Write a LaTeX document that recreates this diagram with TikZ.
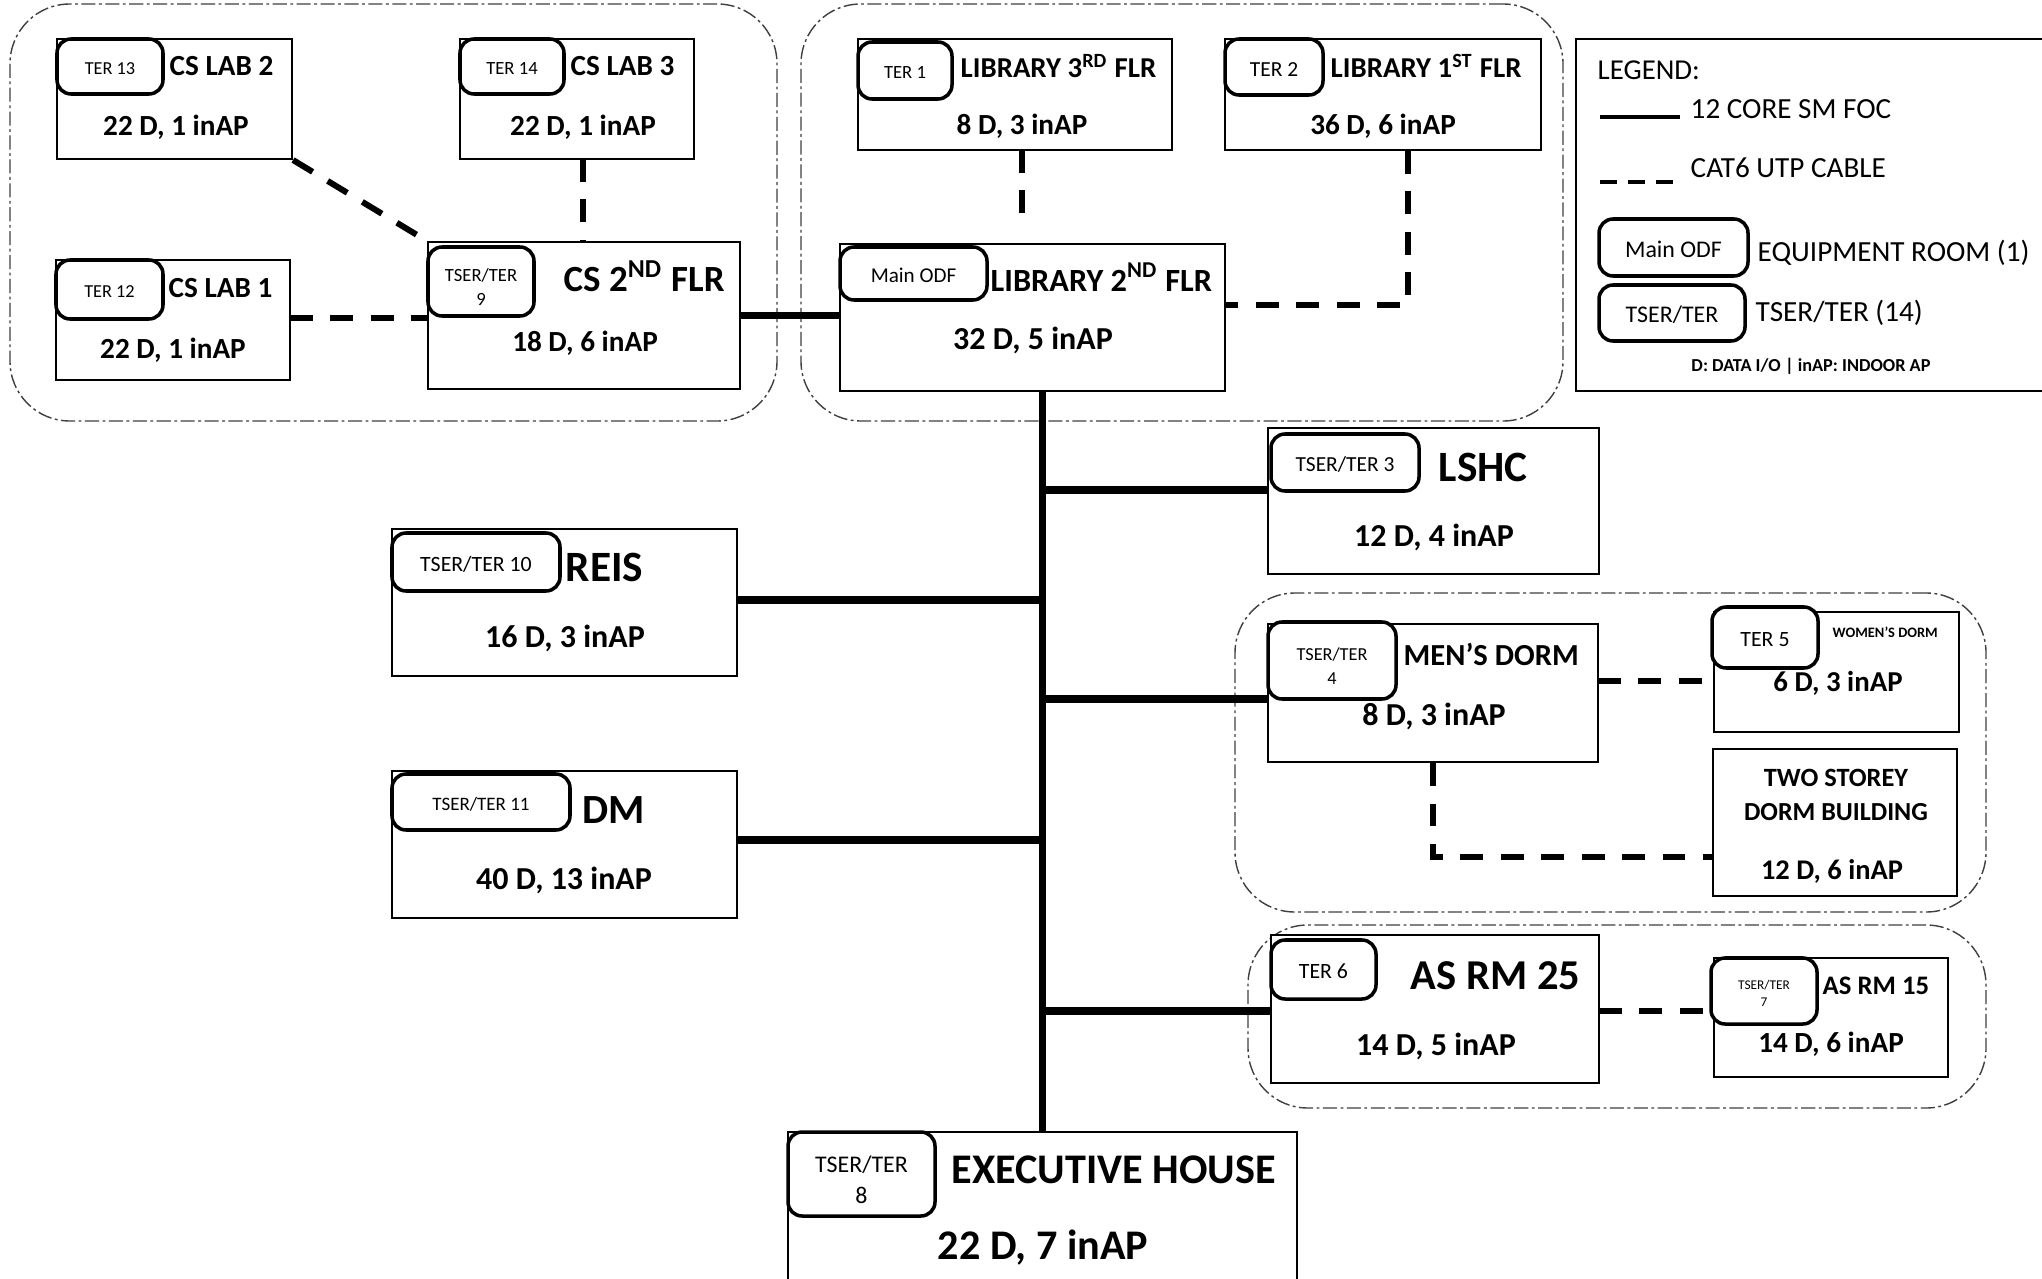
\documentclass[tikz,border=0pt]{standalone}
\usepackage{fontspec}
\setmainfont{Carlito}
\usetikzlibrary{fit}
\begin{document}
\begin{tikzpicture}[x=0.01cm,y=-0.01cm,
  room/.style={draw, line width=0.6pt, inner sep=0pt, fill=white},
  ter/.style={draw, line width=1pt, rounded corners=4pt, inner sep=0pt, fill=white},
  terl/.style={inner sep=0pt, align=center, yshift=-0.6pt, font=\fontsize{#1}{\dimexpr #1pt*13/10\relax}\selectfont},
  bt/.style={inner sep=0pt, font=\fontsize{#1}{#1}\selectfont\bfseries},
  rt/.style={inner sep=0pt, font=\fontsize{#1}{#1}\selectfont},
  foc/.style={line width=2pt},
  utp/.style={line width=1.7pt, dash pattern=on 6.5pt off 5pt},
  grp/.style={draw, line width=0.4pt, black!75, rounded corners=17pt, dash pattern=on 4pt off 1pt on 0.8pt off 1pt, inner sep=0pt}]
\useasboundingbox (0,0) rectangle (2042,1279);
\fill[white] (0,0) rectangle (2042,1279);

% groups
\node[grp, fit={(10,4)(777,421)}] (gcs) {};
\node[grp, fit={(801,4)(1563,421)}] (glib) {};
\node[grp, fit={(1235,593)(1986,912)}] (gdorm) {};
\node[grp, fit={(1248,925)(1986,1108)}] (gas) {};

% rooms
\node[room, fit={(57,39)(292,159)}] (lab2) {};
\node[room, fit={(460,39)(694,159)}] (lab3) {};
\node[room, fit={(56,260)(290,380)}] (lab1) {};
\node[room, fit={(428,242)(740,389)}] (cs2) {};
\node[room, fit={(858,39)(1172,150)}] (lib3) {};
\node[room, fit={(1225,39)(1541,150)}] (lib1) {};
\node[room, fit={(840,244)(1225,391)}] (lib2) {};
\node[room, fit={(1268,428)(1599,574)}] (lshc) {};
\node[room, fit={(392,529)(737,676)}] (reis) {};
\node[room, fit={(392,771)(737,918)}] (dm) {};
\node[room, fit={(1268,624)(1598,762)}] (mens) {};
\node[room, fit={(1714,612)(1959,732)}] (women) {};
\node[room, fit={(1713,749)(1957,896)}] (two) {};
\node[room, fit={(1271,935)(1599,1083)}] (as25) {};
\node[room, fit={(1714,958)(1948,1077)}] (as15) {};
\node[room, fit={(788,1132)(1297,1300)}] (exec) {};

% trunk and fibre links
\draw[foc] (exec.north) -- (exec.north |- lib2.south);
\draw[foc] (cs2.east) -- (cs2.east -| lib2.west);
\coordinate (b1) at (1042,490);
\coordinate (b2) at (1042,600);
\coordinate (b3) at (1042,699);
\coordinate (b4) at (1042,840);
\coordinate (b5) at (1042,1011);
\draw[foc] (b1) -- (b1 -| lshc.west);
\draw[foc] (b2) -- (b2 -| reis.east);
\draw[foc] (b3) -- (b3 -| mens.west);
\draw[foc] (b4) -- (b4 -| dm.east);
\draw[foc] (b5) -- (b5 -| as25.west);

% UTP links
\draw[utp] (lab2.south east) -- (cs2.north west);
\coordinate (u1) at (583,159);
\draw[utp] (u1) -- (u1 |- cs2.north);
\coordinate (u2) at (290,318);
\draw[utp] (u2) -- (u2 -| cs2.west);
\coordinate (u3) at (1022,150);
\draw[utp, shorten >=8pt] (u3) -- (u3 |- lib2.north);
\coordinate (u4) at (1408,305);
\draw[utp] (u4 |- lib1.south) -- (u4) -- (u4 -| lib2.east);
\coordinate (u5) at (1598,681);
\draw[utp] (u5) -- (u5 -| women.west);
\coordinate (u6) at (1433,857);
\draw[utp] (mens.south) -- (u6) -- (u6 -| two.west);
\coordinate (u7) at (1599,1011);
\draw[utp] (u7) -- (u7 -| as15.west);

% terminal rooms
\node[ter, fit={(57,39)(163,94)}] (t13) {};
\node[terl=5.2] (t13l) at (t13) {TER 13};
\node[ter, fit={(460,39)(564,94)}] (t14) {};
\node[terl=5.3] (t14l) at (t14) {TER 14};
\node[ter, fit={(56,260)(163,319)}] (t12) {};
\node[terl=5.2] (t12l) at (t12) {TER 12};
\node[ter, fit={(428,247)(534,316)}] (t9) {};
\node[terl=5.3, yshift=-1pt] (t9l) at (t9) {TSER/TER\\9};
\node[ter, fit={(858,42)(952,99)}] (t1) {};
\node[terl=5.3] (t1l) at (t1) {TER 1};
\node[ter, fit={(1225,39)(1323,95)}] (t2) {};
\node[terl=6.1] (t2l) at (t2) {TER 2};
\node[ter, fit={(840,247)(987,300)}] (modf) {};
\node[terl=6.0] (modfl) at (modf) {Main ODF};
\node[ter, fit={(1271,434)(1419,491)}] (t3) {};
\node[terl=6.1] (t3l) at (t3) {TSER/TER 3};
\node[ter, fit={(392,533)(560,591)}] (t10) {};
\node[terl=6.2] (t10l) at (t10) {TSER/TER 10};
\node[ter, fit={(392,774)(570,830)}] (t11) {};
\node[terl=5.4] (t11l) at (t11) {TSER/TER 11};
\node[ter, fit={(1268,622)(1396,699)}] (t4) {};
\node[terl=5.2, yshift=-1pt] (t4l) at (t4) {TSER/TER\\4};
\node[ter, fit={(1712,607)(1818,668)}] (t5) {};
\node[terl=6.2] (t5l) at (t5) {TER 5};
\node[ter, fit={(1271,940)(1376,999)}] (t6) {};
\node[terl=6.2] (t6l) at (t6) {TER 6};
\node[ter, fit={(1711,958)(1817,1024)}] (t7) {};
\node[terl=3.8] (t7l) at (t7) {TSER/TER\\7};
\node[ter, fit={(788,1132)(935,1216)}] (t8) {};
\node[terl=6.8, yshift=-1pt] (t8l) at (t8) {TSER/TER\\8};

% room titles and counts
\node[bt=8.3, anchor=west] (lab2t) at (169,66) {CS LAB 2};
\node[bt=8.3] (lab2d) at (176,127) {22 D, 1 inAP};
\node[bt=8.3, anchor=west] (lab3t) at (570,66) {CS LAB 3};
\node[bt=8.3] (lab3d) at (583,127) {22 D, 1 inAP};
\node[bt=8.3, anchor=west] (lab1t) at (168,288) {CS LAB 1};
\node[bt=8.3] (lab1d) at (173,350) {22 D, 1 inAP};
\node[bt=10.5, anchor=west] (cs2t) at (563,276) {CS 2\textsuperscript{ND} FLR};
\node[bt=8.3] (cs2d) at (585,343) {18 D, 6 inAP};
\node[bt=8.2, anchor=west] (lib3t) at (960,66) {LIBRARY 3\textsuperscript{RD} FLR};
\node[bt=8.3] (lib3d) at (1022,126) {8 D, 3 inAP};
\node[bt=8.2, anchor=west] (lib1t) at (1330,66) {LIBRARY 1\textsuperscript{ST} FLR};
\node[bt=8.3] (lib1d) at (1383,126) {36 D, 6 inAP};
\node[bt=9.2, anchor=west] (lib2t) at (990,277) {LIBRARY 2\textsuperscript{ND} FLR};
\node[bt=9.1] (lib2d) at (1033,340) {32 D, 5 inAP};
\node[bt=12.3, anchor=west] (lshct) at (1438,467) {LSHC};
\node[bt=9.1] (lshcd) at (1434,537) {12 D, 4 inAP};
\node[bt=12.3, anchor=west] (reist) at (565,567) {REIS};
\node[bt=9.1] (reisd) at (565,638) {16 D, 3 inAP};
\node[bt=11.8, anchor=west] (dmt) at (582,810) {DM};
\node[bt=9.1] (dmd) at (564,880) {40 D, 13 inAP};
\node[bt=8.7, anchor=west] (menst) at (1403,654) {MEN’S DORM};
\node[bt=9.1] (mensd) at (1434,716) {8 D, 3 inAP};
\node[bt=4.1, anchor=west] (woment) at (1832,632) {WOMEN’S DORM};
\node[bt=8.2] (womend) at (1838,683) {6 D, 3 inAP};
\node[bt=7.5] (twot) at (1836,778) {TWO STOREY};
\node[bt=7.4] (twot2) at (1836,812) {DORM BUILDING};
\node[bt=8.1] (twod) at (1832,871) {12 D, 6 inAP};
\node[bt=12.1, anchor=west] (as25t) at (1410,976) {AS RM 25};
\node[bt=9.1] (as25d) at (1436,1046) {14 D, 5 inAP};
\node[bt=7.6, anchor=west] (as15t) at (1822,986) {AS RM 15};
\node[bt=8.3] (as15d) at (1831,1044) {14 D, 6 inAP};
\node[bt=12, anchor=west] (exect) at (951,1170) {EXECUTIVE HOUSE};
\node[bt=12] (execd) at (1043,1248) {22 D, 7 inAP};

% legend
\node[room, fit={(1576,39)(2050,391)}] (leg) {};
\node[rt=8.2, anchor=west] (legt) at (1597,70) {LEGEND:};
\coordinate (l1a) at (1600,117);
\coordinate (l1b) at (1680,117);
\draw[line width=1.1pt] (l1a) -- (l1b);
\node[rt=8.3, anchor=west] (legfoc) at (1690,109) {12 CORE SM FOC};
\coordinate (l2a) at (1600,182);
\coordinate (l2b) at (1673,182);
\draw[line width=1.1pt, dash pattern=on 4.8pt off 3.2pt] (l2a) -- (l2b);
\node[rt=8.3, anchor=west] (legutp) at (1690,168) {CAT6 UTP CABLE};
\node[ter, fit={(1599,219)(1748,276)}] (legodf) {};
\node[terl=6.8] (legodfl) at (legodf) {Main ODF};
\node[rt=8.3, anchor=west] (legeq) at (1757,253) {EQUIPMENT ROOM (1)};
\node[ter, fit={(1599,285)(1745,341)}] (legter) {};
\node[terl=6.8] (legterl) at (legter) {TSER/TER};
\node[rt=8.3, anchor=west] (legts) at (1755,313) {TSER/TER (14)};
\node[bt=5.2] (legnote) at (1811,366) {D: DATA I/O | inAP: INDOOR AP};
\end{tikzpicture}
\end{document}
